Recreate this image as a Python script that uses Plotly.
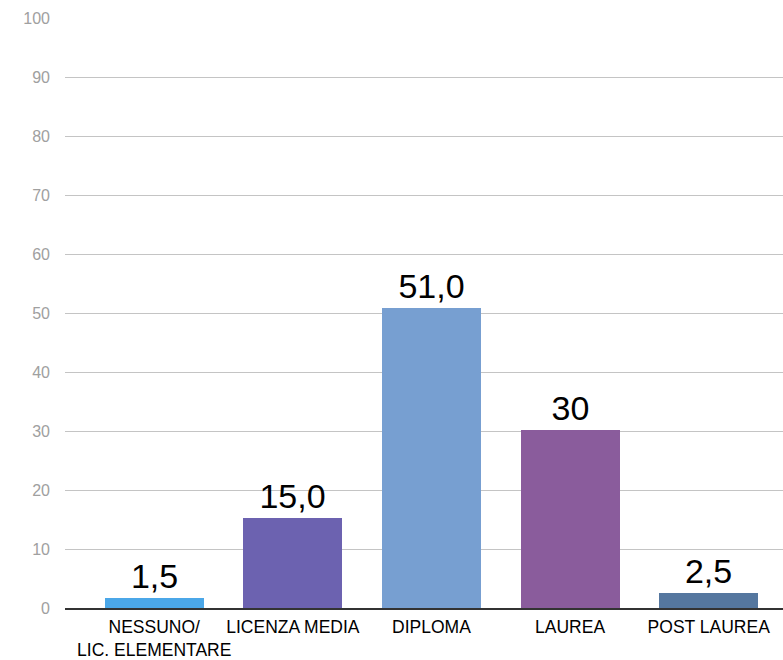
import plotly.graph_objects as go

categories = ["NESSUNO/<br>LIC. ELEMENTARE", "LICENZA MEDIA", "DIPLOMA", "LAUREA", "POST LAUREA"]
values = [1.7, 15.2, 50.9, 30.2, 2.5]
value_labels = ["1,5", "15,0", "51,0", "30", "2,5"]
bar_colors = ["#4BA7E8", "#6C62B0", "#779FD1", "#8A5C9C", "#55779F"]
y_ticks = [0, 10, 20, 30, 40, 50, 60, 70, 80, 90, 100]

fig = go.Figure(go.Bar(
    x=list(range(len(categories))),
    y=values,
    marker=dict(color=bar_colors, line=dict(width=0)),
    width=0.714,
    text=value_labels,
    textposition="outside",
    textfont=dict(family="Liberation Sans, Arial, sans-serif", size=34, color="#000000"),
    cliponaxis=False,
    hoverinfo="skip",
))

fig.update_layout(
    width=783, height=660,
    margin=dict(l=65, r=0, t=18, b=52),
    paper_bgcolor="white", plot_bgcolor="white",
    showlegend=False,
    bargap=0,
    xaxis=dict(
        range=[-0.644, 4.536],
        tickmode="array",
        tickvals=list(range(len(categories))),
        ticktext=categories,
        showgrid=False,
        zeroline=False,
        showline=True, linecolor="#333333", linewidth=1.5,
        ticks="",
        automargin=False,
        ticklabelstandoff=2,
        tickfont=dict(family="Liberation Sans, Arial, sans-serif", size=17.5, color="#000000"),
        tickangle=0,
        fixedrange=True,
    ),
    yaxis=dict(
        range=[0, 100],
        tickmode="array",
        tickvals=y_ticks,
        showgrid=True, gridcolor="#c4c4c4", gridwidth=1,
        zeroline=False,
        showline=False,
        ticks="",
        automargin=False,
        ticklabelstandoff=14,
        tickfont=dict(family="Liberation Sans, Arial, sans-serif", size=16, color="#a0a0a0"),
        fixedrange=True,
    ),
)

fig.write_html(
    "out.html",
    config={"displayModeBar": False},
    post_script="document.body.style.margin='0';document.body.style.overflow='hidden';",
)
